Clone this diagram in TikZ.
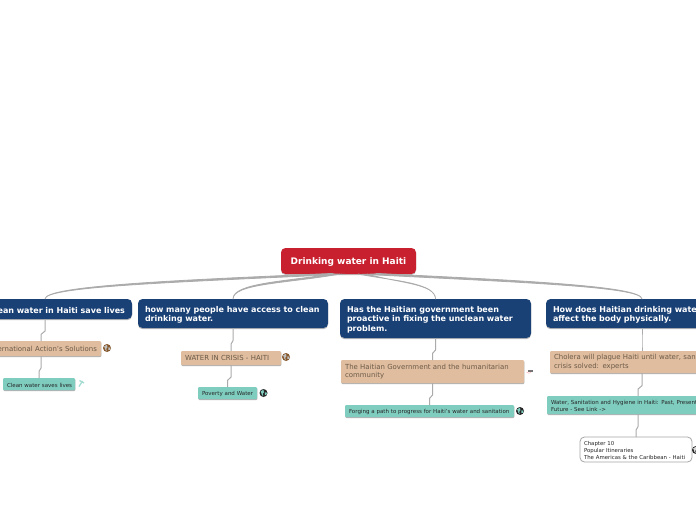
\documentclass[tikz,border=0pt]{standalone}
\usepackage{fontspec}
\setmainfont{DejaVu Sans}
\usetikzlibrary{calc,shadows}
\definecolor{rootred}{HTML}{C8202F}
\definecolor{navy}{HTML}{1A4176}
\definecolor{tanbox}{HTML}{E0BD9F}
\definecolor{tealbox}{HTML}{7FCDBF}
\definecolor{linegrey}{HTML}{ABABAB}
\definecolor{tantext}{HTML}{6B5A48}
\newcommand{\tl}[1]{\mbox{#1}}
\newcommand{\nudge}[1]{\rule{0pt}{#1pt}}
\tikzset{
  x=1pt,y=-1pt,
  boxbase/.style={rectangle,align=left,inner ysep=0pt,outer sep=0pt},
  rootbox/.style={boxbase,fill=rootred,text=white,rounded corners=4.5pt,minimum width=135pt,minimum height=26pt,align=center,inner xsep=0pt,font=\fontsize{9}{11}\selectfont\bfseries,drop shadow={shadow xshift=0pt,shadow yshift=-1pt,fill=black!25,opacity=1}},
  bluebox/.style={boxbase,fill=navy,text=white,rounded corners=4.5pt,inner xsep=7pt,font=\fontsize{8}{9.3}\selectfont\bfseries,drop shadow={shadow xshift=0pt,shadow yshift=-1.2pt,fill=black!28,opacity=1}},
  tanstyle/.style={boxbase,fill=tanbox,text=tantext,rounded corners=1pt,inner xsep=4pt,font=\fontsize{6.95}{8.8}\selectfont,drop shadow={shadow xshift=0.4pt,shadow yshift=-1pt,fill=black!30,opacity=1}},
  tealstyle/.style={boxbase,fill=tealbox,text=black!85,rounded corners=1pt,inner xsep=4pt,font=\fontsize{5.5}{6.4}\selectfont,drop shadow={shadow xshift=0.4pt,shadow yshift=-1pt,fill=black!30,opacity=1}},
  whitebox/.style={boxbase,fill=white,draw=black!35,line width=0.8pt,rounded corners=4.5pt,text=black!85,inner xsep=4pt,font=\fontsize{5.4}{6.6}\selectfont},
  mainlink/.style={draw=linegrey,fill=linegrey,line width=0.8pt,line join=round},
  steplink/.style={draw=linegrey,line width=1pt,line join=round,to path={-- ($(\tikztostart)!0.55!(\tikztostart |- \tikztotarget)$) -- ($(\tikztotarget |- \tikztostart)!0.7!(\tikztotarget)$) -- (\tikztotarget)}},
  globe/.style={circle,minimum size=8pt,inner sep=0pt,fill=#1},
}
\newcommand{\globeicon}[4]{% name, pos, sea, land
  \node[globe=#3] (#1) at (#2) {};
  \fill[#4] ($(#1)+(-2.8,-1.6)$) -- ($(#1)+(0,-3.4)$) -- ($(#1)+(0.4,-0.6)$) -- ($(#1)+(-0.8,0.8)$) -- ($(#1)+(-0.2,3.4)$) -- ($(#1)+(-1.6,1.8)$) -- cycle;
  \fill[#4] ($(#1)+(1.4,-0.6)$) -- ($(#1)+(3.6,-0.4)$) -- ($(#1)+(2.8,1.8)$) -- ($(#1)+(1.5,2)$) -- cycle;
}
\begin{document}
\begin{tikzpicture}
\path[use as bounding box,clip] (0,0) rectangle (696,520);
\fill[white] (0,0) rectangle (696,520);

\node[rootbox] (root) at (348.5,261) {\nudge{9.5}Drinking water in Haiti};

\node[bluebox,minimum width=174pt,minimum height=20pt,text width=160pt,align=right] (b1) at (45,309) {\nudge{8.5}\makebox[160pt][r]{Can clean water in Haiti save lives}};
\node[bluebox,minimum width=190pt,minimum height=29pt,text width=176pt] (b2) at (233,313.5) {\nudge{9}\tl{how many people have access to clean}\\\tl{drinking water.}};
\node[bluebox,minimum width=191pt,minimum height=39pt,text width=177pt] (b3) at (435.5,318.5) {\nudge{8.5}\tl{Has the Haitian government been}\\\tl{proactive in fixing the unclean water}\\\tl{problem.}};
\node[bluebox,minimum width=192pt,minimum height=29pt,text width=178pt] (b4) at (642,313.5) {\nudge{9}\tl{How does Haitian drinking water}\\\tl{affect the body physically.}};

\node[tanstyle,minimum width=120pt,minimum height=15pt,text width=112pt,align=right] (t1) at (41,348.5) {\makebox[112pt][r]{International Action's Solutions}};
\node[tanstyle,minimum width=100pt,minimum height=14pt,text width=92pt] (t2) at (231,358) {\tl{WATER IN CRISIS - HAITI}};
\node[tanstyle,minimum width=183pt,minimum height=23pt,text width=175pt] (t3) at (432.5,371.5) {\tl{The Haitian Government and the humanitarian}\\\tl{community}};
\node[tanstyle,minimum width=184pt,minimum height=22pt,text width=176pt] (t4) at (642,362) {\tl{Cholera will plague Haiti until water, sanitation}\\\tl{crisis solved: experts}};

\node[tealstyle,minimum width=72pt,minimum height=12pt,text width=64pt] (g1) at (39,384) {\nudge{6.5}\tl{Clean water saves lives}};
\node[tealstyle,minimum width=59pt,minimum height=12pt,text width=51pt] (g2) at (227.5,393) {\nudge{6.5}\tl{Poverty and Water}};
\node[tealstyle,minimum width=169pt,minimum height=12pt,text width=161pt] (g3) at (429.5,411) {\nudge{6.5}\tl{Forging a path to progress for Haiti's water and sanitation}};
\node[tealstyle,minimum width=182pt,minimum height=18pt,text width=174pt] (g4) at (638,405) {\nudge{6}\tl{Water, Sanitation and Hygiene in Haiti: Past, Present, and}\\\tl{Future - See Link ->}};

\node[whitebox,minimum width=112pt,minimum height=25pt,text width=104pt] (w) at (636,449.5) {\nudge{6}\tl{Chapter 10}\\\tl{Popular Itineraries}\\\tl{The Americas \& the Caribbean - Haiti}};

% main branches, tapering away from the root
\coordinate (s1a) at (333,273.4);
\coordinate (s1b) at (345,274.2);
\coordinate (s2a) at (332,274);
\coordinate (s2b) at (340,274);
\coordinate (s3a) at (358,274);
\coordinate (s3b) at (367,274);
\coordinate (s4a) at (362,274.2);
\coordinate (s4b) at (376,273.4);
\draw[mainlink] (s1a) .. controls (170,280.4) and (45,286) .. (b1.north) .. controls (45,286.6) and (170,282.4) .. (s1b);
\draw[mainlink] (s2a) .. controls (285,281.6) and (233,283) .. (b2.north) .. controls (233,283.5) and (287,283.4) .. (s2b);
\draw[mainlink] (s3a) .. controls (395,281) and (435.5,283) .. (b3.north) .. controls (435.5,283.5) and (398,283) .. (s3b);
\draw[mainlink] (s4a) .. controls (520,282.4) and (642,286.6) .. (b4.north) .. controls (642,286) and (520,280.4) .. (s4b);

\draw[steplink] (b1.south) to (t1.north);
\draw[steplink] (t1.south) to (g1.north);
\draw[steplink] (b2.south) to (t2.north);
\draw[steplink] (t2.south) to (g2.north);
\draw[steplink] (b3.south) to (t3.north);
\draw[steplink] (t3.south) to (g3.north);
\draw[steplink] (b4.south) to (t4.north);
\draw[steplink] (t4.south) to (g4.north);
\draw[steplink] (g4.south) to (w.north);

\globeicon{i1}{107,348}{brown!70!black}{black!25}
\globeicon{i2}{286,357}{brown!70!black}{black!25}
\globeicon{i3}{263.5,393}{black!85}{tealbox}
\globeicon{i4}{520,411}{black!85}{tealbox}
\globeicon{i5}{696,450}{black!85}{black!15}

% pin icon
\draw[tealbox!70,line width=1.3pt] (79,386.5) -- (82.5,381);
\draw[tealbox!70,line width=1.3pt] (79.5,380.5) -- (84,383);
% small mark beside the third tan box
\fill[black!55] (527.5,369.5) rectangle (532.5,371.8);
\draw[red!40,line width=0.4pt] (526.5,372) .. controls (528,373.5) and (530,373.5) .. (531,372.5);
\end{tikzpicture}
\end{document}
